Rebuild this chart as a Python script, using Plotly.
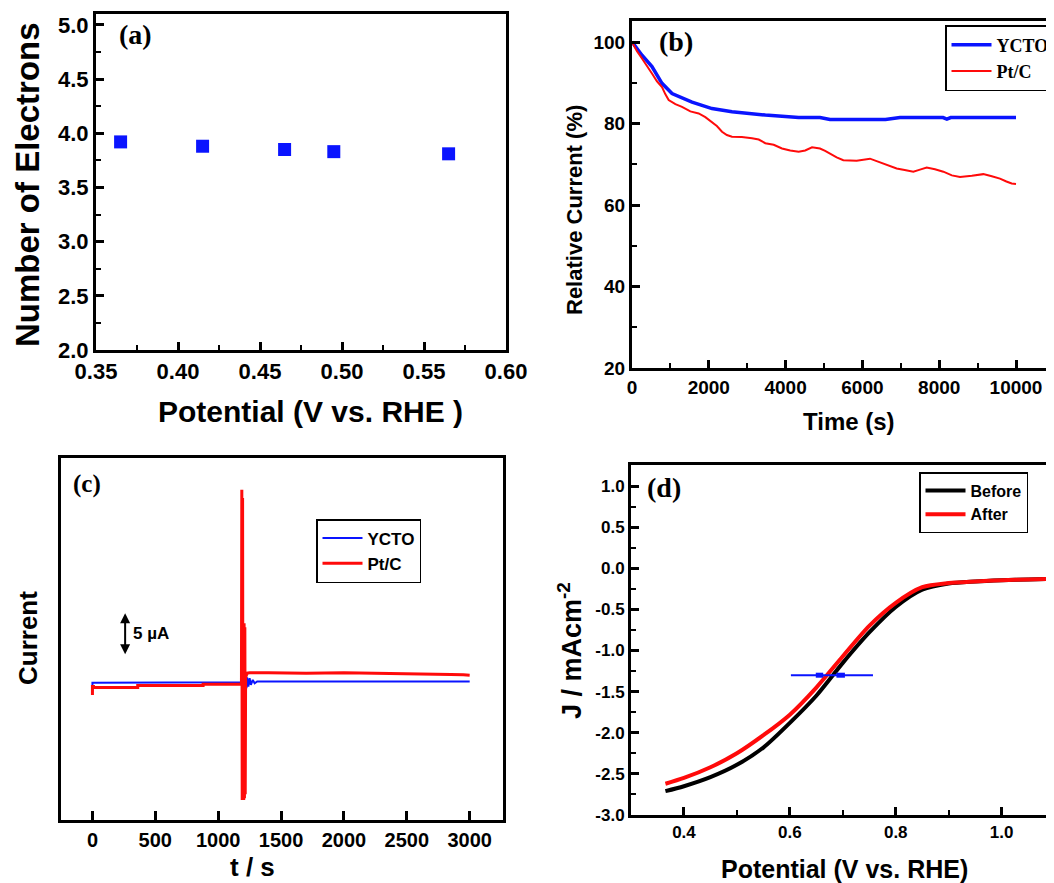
import plotly.graph_objects as go

W, H = 1054, 883
OX, OY = 8, 8  # page margin of the browser around the figure

# (a) number of electrons vs potential
pot_a = [0.365, 0.415, 0.465, 0.495, 0.565]
electrons_a = [3.92, 3.88, 3.85, 3.83, 3.81]

# (b) chronoamperometry, relative current (%)
time_ycto_b = [0, 260, 520, 781, 1042, 1563, 2083, 2604, 3472, 4340, 4896, 5156, 5800,
               6600, 6979, 7500, 8100, 8200, 8300, 9000, 10000]
cur_ycto_b = [100.1, 96.8, 94.0, 89.9, 87.4, 85.3, 83.7, 82.9, 82.1, 81.5, 81.5, 81.0, 81.0,
              81.0, 81.5, 81.5, 81.5, 81.1, 81.5, 81.5, 81.5]
time_ptc_b = [0, 130, 260, 390, 520, 650, 781, 870, 955, 1130, 1302, 1520, 1736, 1910, 2083,
              2210, 2344, 2470, 2604, 2860, 3125, 3300, 3472, 3690, 3906, 4120, 4340, 4510,
              4688, 4896, 5030, 5156, 5330, 5503, 5850, 6198, 6540, 6892, 7100, 7326, 7500,
              7674, 7890, 8108, 8330, 8542, 8850, 9149, 9370, 9583, 9750, 9887, 10000]
cur_ptc_b = [100.0, 97.8, 96.0, 94.0, 92.3, 90.4, 89.0, 87.2, 85.8, 84.8, 84.1, 83.0, 82.5,
             81.6, 80.4, 79.4, 78.0, 77.2, 76.8, 76.7, 76.4, 76.1, 75.2, 74.8, 73.9, 73.4,
             73.1, 73.4, 74.2, 73.9, 73.3, 72.6, 71.7, 71.0, 70.9, 71.4, 70.3, 69.0, 68.6,
             68.2, 68.7, 69.2, 68.8, 68.2, 67.3, 66.9, 67.2, 67.6, 67.1, 66.5, 65.8, 65.3,
             65.2]

# (c) methanol crossover test, current in uA (relative)
t_ycto_c = [0, 0, 8, 900, 1000, 1100, 1185, 1200, 1205, 1210, 1215, 1220, 1225, 1230, 1240,
            1250, 1260, 1275, 1290, 1310, 1400, 3000]
i_ycto_c = [-1.2, -0.15, -0.15, -0.12, -0.1, -0.08, -0.1, 0.6, -1.0, 0.7, -0.9, 0.6, -0.8,
            0.5, -0.6, 0.4, -0.4, 0.2, -0.2, 0.0, 0.0, 0.0]
t_ptc_c = [0, 0, 8, 8, 360, 360, 880, 880, 1185, 1188, 1191, 1194, 1197, 1200, 1203, 1206,
           1209, 1212, 1215, 1218, 1230, 1250, 1400, 1700, 2000, 2300, 2500, 2700, 2850,
           2950, 3000]
i_ptc_c = [-1.6, -0.6, -0.6, -0.7, -0.7, -0.48, -0.48, -0.32, -0.3, 23.0, -14.2, 22.0,
           -14.2, 7.0, -14.2, 7.0, -14.0, 6.5, -13.5, 0.5, 1.0, 1.05, 1.05, 1.0, 1.05,
           1.0, 0.95, 0.9, 0.85, 0.8, 0.75]
scale_bar_t = 260
scale_bar_i = [3.1, 8.2]

# (d) LSV before / after durability
pot_d = [0.365, 0.40, 0.45, 0.50, 0.55, 0.60, 0.65, 0.70, 0.75, 0.80, 0.85, 0.90, 0.95,
         1.00, 1.05, 1.114]
j_before = [-2.71, -2.65, -2.54, -2.39, -2.18, -1.88, -1.55, -1.15, -0.78, -0.47, -0.26,
            -0.185, -0.16, -0.145, -0.135, -0.125]
j_after = [-2.62, -2.55, -2.42, -2.25, -2.03, -1.78, -1.45, -1.07, -0.70, -0.42, -0.23,
           -0.18, -0.16, -0.145, -0.135, -0.125]
err_x = [0.602, 0.757]
err_y = -1.30
err_caps = [[0.649, 0.663], [0.688, 0.704]]

BLUE = "#0a14ff"
RED = "#ff0a0a"
SANS = "Liberation Sans, Arial"
SERIF = "Liberation Serif, Times New Roman"


def px(x, y):
    """ screen pixel position -> paper coords """
    return (x - OX) / W, 1 - (y - OY) / H


def xdom(a, b):
    return [px(a, 0)[0], min(1.0, px(b, 0)[0])]


def ydom(top, bottom):
    return [px(0, bottom)[1], px(0, top)[1]]


def frame_axis(size, **kw):
    base = dict(showline=True, linecolor="black", linewidth=3, ticks="inside", ticklen=8,
                tickwidth=2.5, tickcolor="black", showgrid=False, zeroline=False,
                automargin=False,
                tickfont=dict(family=SANS, size=size, color="black", weight="bold"))
    base.update(kw)
    return base


def minor(dtick):
    return dict(ticks="inside", ticklen=5, tickwidth=2, tickcolor="black", dtick=dtick,
                showgrid=False)


fig = go.Figure()

fig.add_trace(go.Scatter(x=pot_a, y=electrons_a, mode="markers", showlegend=False,
                         marker=dict(symbol="square", size=13, color=BLUE),
                         xaxis="x", yaxis="y"))

fig.add_trace(go.Scatter(x=time_ycto_b, y=cur_ycto_b, mode="lines", name="YCTO",
                         line=dict(color=BLUE, width=3.5), xaxis="x2", yaxis="y2",
                         legend="legend"))
fig.add_trace(go.Scatter(x=time_ptc_b, y=cur_ptc_b, mode="lines", name="Pt/C",
                         line=dict(color=RED, width=2), xaxis="x2", yaxis="y2",
                         legend="legend"))

fig.add_trace(go.Scatter(x=t_ycto_c, y=i_ycto_c, mode="lines", name="YCTO",
                         line=dict(color=BLUE, width=2), xaxis="x3", yaxis="y3",
                         legend="legend2"))
fig.add_trace(go.Scatter(x=t_ptc_c, y=i_ptc_c, mode="lines", name="Pt/C",
                         line=dict(color=RED, width=3), xaxis="x3", yaxis="y3",
                         legend="legend2"))

fig.add_trace(go.Scatter(x=pot_d, y=j_before, mode="lines", name="Before",
                         line=dict(color="black", width=4, shape="spline", smoothing=0.8),
                         xaxis="x4", yaxis="y4", legend="legend3"))
fig.add_trace(go.Scatter(x=pot_d, y=j_after, mode="lines", name="After",
                         line=dict(color=RED, width=4, shape="spline", smoothing=0.8),
                         xaxis="x4", yaxis="y4", legend="legend3"))
fig.add_trace(go.Scatter(x=err_x, y=[err_y, err_y], mode="lines", showlegend=False,
                         line=dict(color=BLUE, width=2), xaxis="x4", yaxis="y4"))
for cap in err_caps:
    fig.add_trace(go.Scatter(x=cap, y=[err_y, err_y], mode="lines", showlegend=False,
                             line=dict(color=BLUE, width=5), xaxis="x4", yaxis="y4"))

# axes (right-hand panels run past the right edge of the picture)
fig.update_layout(
    xaxis=frame_axis(22, domain=xdom(96, 506), range=[0.35, 0.60], dtick=0.05,
                     tick0=0.35, tickformat=".2f", mirror=True, minor=minor(0.025),
                     anchor="y"),
    yaxis=frame_axis(22, domain=ydom(14, 350), range=[2.0, 5.1], dtick=0.5,
                     tickformat=".1f", mirror=True, minor=minor(0.25), anchor="x"),
    xaxis2=frame_axis(19, domain=xdom(632, 1062), range=[0, 11198], dtick=2000, tick0=0,
                      tickformat="d", mirror=True, minor=minor(1000), anchor="y2"),
    yaxis2=frame_axis(19, domain=ydom(21, 368), range=[20, 105.2], dtick=20,
                      tick0=20, minor=minor(10), anchor="x2"),
    xaxis3=frame_axis(20, domain=xdom(61, 503), range=[-250, 3265], dtick=500, tick0=0,
                      tickformat="d", mirror=True, ticklen=9, tickwidth=3, anchor="y3"),
    yaxis3=dict(domain=ydom(458, 820), range=[-16.6, 26.8], showline=True,
                linecolor="black", linewidth=3, mirror=True, showticklabels=False,
                showgrid=False, zeroline=False, ticks="", automargin=False, anchor="x3"),
    xaxis4=frame_axis(17, domain=xdom(631, 1062), range=[0.3, 1.114], dtick=0.2, tick0=0.4,
                      tickformat=".1f", mirror=True, minor=minor(0.1), anchor="y4"),
    yaxis4=frame_axis(17, domain=ydom(465, 815), range=[-3.0, 1.256],
                      tickvals=[-3.0, -2.5, -2.0, -1.5, -1.0, -0.5, 0.0, 0.5, 1.0],
                      ticktext=["-3.0", "-2.5", "-2.0", "-1.5", "-1.0", "-0.5", "0.0",
                                "0.5", "1.0"],
                      minor=dict(ticks="inside", ticklen=5, tickwidth=2, tickcolor="black",
                                 tickvals=[-2.75, -2.25, -1.75, -1.25, -0.75, -0.25, 0.25,
                                           0.75, 1.25]),
                      anchor="x4"),
)

legend_common = dict(xanchor="left", yanchor="top", bgcolor="white", bordercolor="black",
                     borderwidth=1.5, tracegroupgap=0, itemwidth=40)
lx, ly = px(945, 25)
fig.update_layout(legend=dict(x=lx, y=ly, font=dict(family=SERIF, size=18, color="black",
                                                    weight="bold"), **legend_common))
lx, ly = px(316, 519)
fig.update_layout(legend2=dict(x=lx, y=ly, font=dict(family=SANS, size=17, color="black",
                                                     weight="bold"), **legend_common))
lx, ly = px(919, 472)
fig.update_layout(legend3=dict(x=lx, y=ly, font=dict(family=SANS, size=16, color="black",
                                                     weight="bold"), **legend_common))

# scale bar in (c)
fig.add_annotation(x=scale_bar_t, y=scale_bar_i[1], ax=scale_bar_t, ay=scale_bar_i[0],
                   xref="x3", yref="y3", axref="x3", ayref="y3", text="", showarrow=True,
                   arrowhead=2, arrowside="end+start", arrowwidth=2, arrowsize=1,
                   arrowcolor="black")
fig.add_annotation(x=310, y=5.8, xref="x3", yref="y3", text="<b>5 µA</b>", showarrow=False,
                   xanchor="left", font=dict(family=SANS, size=17, color="black"))

# titles and panel labels (screen pixel centres)
texts = [
    ("Number of Electrons", 27, 185, 33, -90, SANS),
    ("Potential (V vs. RHE )", 310, 412, 30, 0, SANS),
    ("Relative Current (%)", 575, 210, 22, -90, SANS),
    ("Time (s)", 849, 422, 24, 0, SANS),
    ("Current", 28, 638, 26, -90, SANS),
    ("t / s", 252, 867, 26, 0, SANS),
    ("J / mAcm<sup>-2</sup>", 570, 651, 27, -90, SANS),
    ("Potential (V vs. RHE)", 844, 869, 25, 0, SANS),
    ("(a)", 135, 35, 28, 0, SERIF),
    ("(b)", 676, 41, 28, 0, SERIF),
    ("(c)", 87, 484, 25, 0, SERIF),
    ("(d)", 664, 487, 28, 0, SERIF),
]
for txt, x, y, size, ang, fam in texts:
    xp, yp = px(x, y)
    fig.add_annotation(x=xp, y=yp, xref="paper", yref="paper", text="<b>" + txt + "</b>",
                       showarrow=False, textangle=ang, xanchor="center", yanchor="middle",
                       font=dict(family=fam, size=size, color="black"))

fig.update_layout(width=W, height=H, margin=dict(l=0, r=0, t=0, b=0),
                  plot_bgcolor="white", paper_bgcolor="white")

fig.write_html("out.html")
